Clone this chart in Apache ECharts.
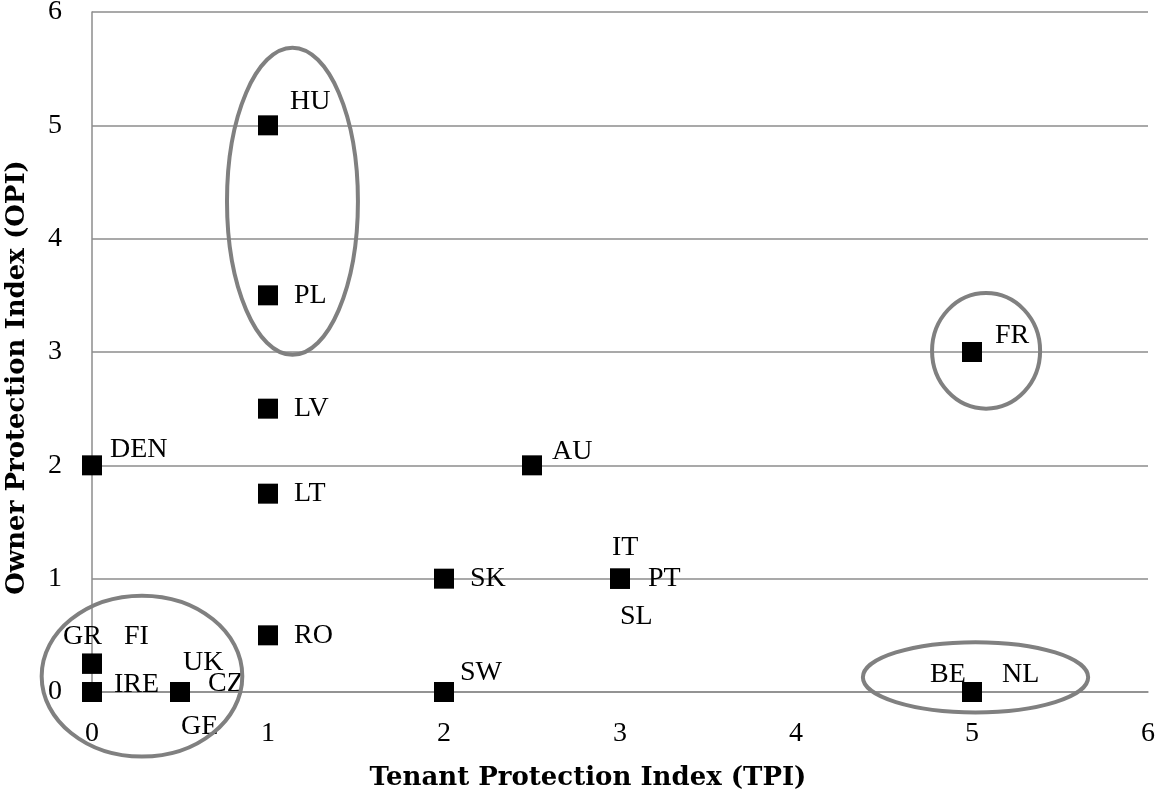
<!DOCTYPE html>
<html>
<head>
<meta charset="utf-8">
<script src="https://cdn.jsdelivr.net/npm/echarts@6/dist/echarts.min.js"></script>
<style>
  html, body { margin: 0; padding: 0; background: #fff; }
  #chart { width: 1157px; height: 798px; }
</style>
</head>
<body>
<div id="chart"></div>
<script>
// country codes and their index values
var countries = ['HU', 'PL', 'LV', 'LT', 'RO', 'DEN', 'AU', 'SK', 'IT', 'PT', 'SL', 'FR', 'BE', 'NL', 'SW', 'GR', 'FI', 'IRE', 'UK', 'CZ', 'GE'];
var tpi = [1, 1, 1, 1, 1, 0, 2.5, 2, 3, 3, 3, 5, 5, 5, 2, 0, 0, 0, 0.5, 0.5, 0.5];
var opi = [5, 3.5, 2.5, 1.75, 0.5, 2, 2, 1, 1, 1, 1, 3, 0, 0, 0, 0.25, 0.25, 0, 0, 0, 0];
var axisTicks = [0, 1, 2, 3, 4, 5, 6];

// label placement (px from marker centre to text left / middle)
var labelPos = {
  HU: [22, -24], PL: [26, 0], LV: [26, 0], LT: [26, 0], RO: [26, 0],
  DEN: [18, -16], AU: [20, -14], SK: [26, 0],
  IT: [-8, -31], PT: [28, 0], SL: [0, 38],
  FR: [23, -16], BE: [-42, -17], NL: [30, -17], SW: [16, -19],
  GR: [-29, -27], FI: [32, -27], IRE: [22, -7],
  UK: [3, -29], CZ: [28, -8], GE: [1, 35]
};

// grouping ellipses, in data units: [cx, cy, rx, ry]
var groups = [
  [0.284, 0.14, 0.57, 0.71],
  [1.139, 4.33, 0.372, 1.355],
  [5.08, 3.01, 0.307, 0.51],
  [5.02, 0.13, 0.64, 0.31]
];

var FONT = '"Liberation Serif", "DejaVu Serif", serif';
var TITLE_FONT = '"DejaVu Serif", "Liberation Serif", serif';

var points = countries.map(function (c, i) {
  var p = labelPos[c] || [20, 0];
  return {
    name: c,
    value: [tpi[i], opi[i]],
    label: { offset: [p[0] - 10, p[1]] }
  };
});

var chart = echarts.init(document.getElementById('chart'));

var option = {
  animation: false,
  backgroundColor: '#fff',
  grid: { left: 92, right: 9, top: 12, bottom: 106, containLabel: false, outerBoundsMode: 'none' },
  xAxis: {
    type: 'value',
    min: axisTicks[0],
    max: axisTicks[axisTicks.length - 1],
    interval: 1,
    name: 'Tenant Protection Index (TPI)',
    nameLocation: 'middle',
    nameGap: 73,
    nameTextStyle: { fontFamily: TITLE_FONT, fontSize: 26, fontWeight: 'bold', color: '#000', padding: [0, 64, 0, 0] },
    axisLine: { show: true, lineStyle: { color: '#8c8c8c', width: 1.5 } },
    axisTick: { show: false },
    splitLine: { show: false },
    axisLabel: { fontFamily: FONT, fontSize: 28, color: '#000', margin: 28 }
  },
  yAxis: {
    type: 'value',
    min: axisTicks[0],
    max: axisTicks[axisTicks.length - 1],
    interval: 1,
    name: 'Owner Protection Index (OPI)',
    nameLocation: 'middle',
    nameGap: 62,
    nameTextStyle: { fontFamily: TITLE_FONT, fontSize: 26, fontWeight: 'bold', color: '#000', padding: [0, 51, 0, 0] },
    axisLine: { show: true, onZero: false, lineStyle: { color: '#8c8c8c', width: 1.5 } },
    axisTick: { show: false },
    splitLine: { show: true, lineStyle: { color: '#8c8c8c', width: 1.5 } },
    axisLabel: { fontFamily: FONT, fontSize: 28, color: '#000', margin: 30 }
  },
  series: [{
    type: 'scatter',
    symbol: 'rect',
    symbolSize: 20,
    itemStyle: { color: '#000', opacity: 1 },
    label: {
      show: true,
      position: 'right',
      distance: 0,
      formatter: '{b}',
      fontFamily: FONT,
      fontSize: 28,
      color: '#000'
    },
    z: 5,
    data: points
  }]
};

chart.setOption(option);

function drawGroups() {
  var els = groups.map(function (g) {
    var c = chart.convertToPixel({ gridIndex: 0 }, [g[0], g[1]]);
    var e = chart.convertToPixel({ gridIndex: 0 }, [g[0] + g[2], g[1] + g[3]]);
    return {
      type: 'ellipse',
      shape: { cx: c[0], cy: c[1], rx: Math.abs(e[0] - c[0]), ry: Math.abs(c[1] - e[1]) },
      style: { fill: null, stroke: '#808080', lineWidth: 4 },
      z: 10,
      silent: true
    };
  });
  chart.setOption({ graphic: els });
}
drawGroups();

window.onresize = function () {
  chart.resize();
  drawGroups();
};
</script>
</body>
</html>
